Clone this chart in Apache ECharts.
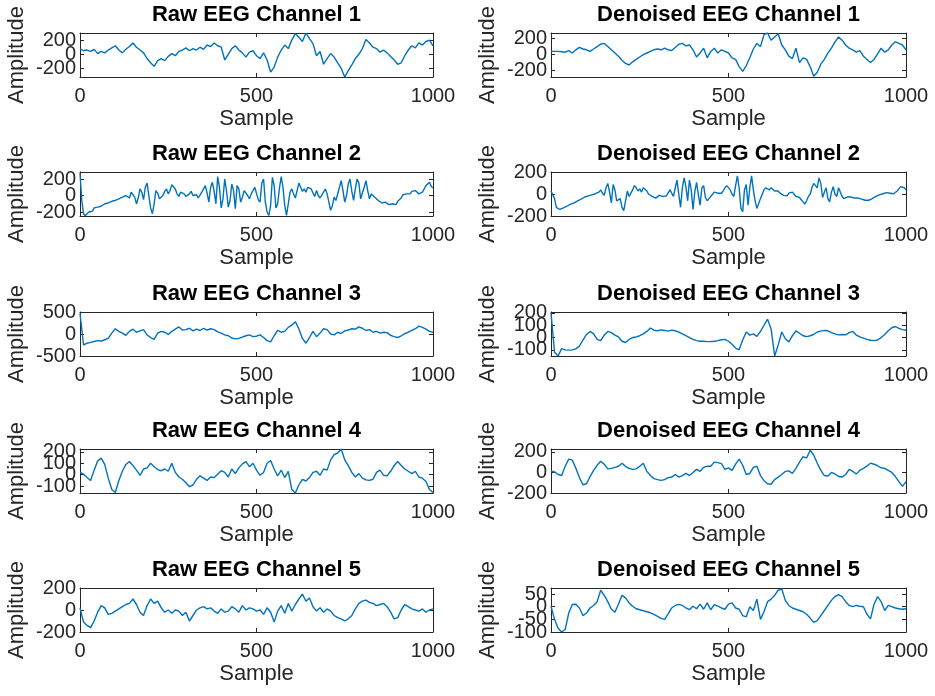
<!DOCTYPE html>
<html>
<head>
<meta charset="utf-8">
<script src="https://cdn.jsdelivr.net/npm/echarts@6/dist/echarts.min.js"></script>
<style>
html,body{margin:0;padding:0;background:#fff;}
#c{width:935px;height:696px;}
</style>
</head>
<body>
<div id="c"></div>
<script>
// ---- data ----
const xTicks = [0, 500, 1000];
const titles = [
  'Raw EEG Channel 1','Denoised EEG Channel 1',
  'Raw EEG Channel 2','Denoised EEG Channel 2',
  'Raw EEG Channel 3','Denoised EEG Channel 3',
  'Raw EEG Channel 4','Denoised EEG Channel 4',
  'Raw EEG Channel 5','Denoised EEG Channel 5'
];
const yTicks = [
  [-200,0,200],[-200,0,200],
  [-200,0,200],[-200,0,200],
  [-500,0,500],[-100,0,100,200],
  [-100,0,100,200],[-200,0,200],
  [-200,0,200],[-100,-50,0,50]
];
const yLimits = [
  [-320,300],[-280,270],
  [-248,285],[-200,205],
  [-500,500],[-150,208],
  [-160,225],[-200,228],
  [-200,200],[-100,74]
];
// sample step for each series
const steps = [10,10, 5,5, 10,10, 10,10, 10,10];

const raw1 = [80,50,60,40,70,10,40,20,60,90,120,60,20,70,110,160,100,60,20,-60,-120,-170,-90,-60,-90,-30,10,-20,40,60,90,50,80,60,100,70,130,110,160,120,100,-80,0,80,120,60,20,-40,30,50,-20,-60,20,-80,-250,-180,-40,60,130,80,200,290,240,180,300,220,150,-20,40,-140,-60,10,-40,-120,-200,-320,-230,-150,-60,0,80,210,160,100,80,30,60,20,-30,-80,-140,-120,-20,60,120,90,160,130,180,200,120];
const den1 = [40,40,40,35,30,50,20,60,90,70,60,40,70,100,130,140,100,60,20,-20,-70,-110,-130,-90,-60,-30,0,20,40,60,70,60,80,60,50,90,130,140,110,120,60,-30,20,80,-40,40,80,20,60,40,20,-40,-60,-150,-210,-140,-40,70,140,100,250,270,180,220,260,120,60,-20,-50,80,-100,-40,-60,-150,-270,-220,-120,-60,20,80,160,220,180,120,80,60,30,50,-20,-60,-100,-60,10,80,30,60,120,160,140,120,60];
const raw2 = [270,-60,-220,-245,-240,-200,-180,-190,-150,-160,-140,-120,-130,-110,-100,-110,-90,-100,-70,-80,-60,-70,-40,-50,-20,-40,0,20,-30,40,60,-20,-100,-30,80,40,-50,100,150,0,-150,-220,-100,60,30,-40,-60,0,50,80,20,60,130,150,80,20,-10,40,30,20,-10,-30,20,50,0,-20,10,-30,-10,40,80,120,30,-80,100,160,50,-100,230,100,-150,-40,200,60,-140,-60,140,60,-160,120,80,-80,-20,60,80,0,-40,20,60,100,120,-50,-80,150,200,-80,-200,-240,-120,220,120,-150,-100,90,230,100,-120,-240,-100,40,80,20,-30,60,150,100,50,80,40,100,120,80,30,-10,60,0,-30,-10,40,80,20,-80,-180,-120,-20,-60,20,100,180,60,-80,0,140,200,50,-60,80,200,150,-40,-40,100,180,60,-40,20,0,-20,-40,-60,-50,-90,-100,-80,-90,-110,-90,-100,-80,-110,-70,-60,-30,10,30,20,40,20,50,30,60,40,20,10,40,60,120,140,160,110,90];
const den2 = [30,40,-40,-120,-135,-140,-130,-125,-120,-110,-100,-90,-85,-80,-70,-60,-50,-45,-35,-25,-20,-15,-10,-5,0,5,10,20,40,10,-10,60,100,20,-80,90,40,-60,-70,-40,-120,-150,-60,30,-20,-30,40,80,60,30,50,20,60,70,30,0,-10,-20,-30,-35,-20,-10,-15,-20,-10,-15,0,40,30,-20,60,130,0,-120,60,150,70,-60,130,40,-140,20,110,0,-100,60,80,-30,-60,-40,-30,0,20,30,10,0,10,30,60,80,90,40,0,-20,80,170,60,-130,-160,40,90,-100,60,170,40,-60,-130,-140,-40,0,40,60,70,40,60,50,30,20,30,10,0,-10,-20,-15,10,0,20,5,-20,-10,-30,-50,-70,-90,-60,-20,0,60,100,80,60,150,100,-30,20,60,-40,-70,20,70,0,-20,60,70,-20,-40,-30,-25,-30,-25,-30,-35,-30,-35,-40,-45,-50,-55,-60,-55,-45,-40,-30,-20,-10,-5,0,5,10,15,20,10,0,5,20,30,50,70,80,60,40];
const raw3 = [470,-250,-210,-190,-170,-150,-160,-130,-100,20,120,60,20,-30,60,110,40,70,100,-20,-80,-120,20,60,40,-10,60,110,160,90,100,130,70,110,80,130,90,120,100,50,20,-20,-40,-90,-110,-100,-70,-40,-20,-60,-50,-20,-80,-150,-180,-40,80,40,60,150,200,280,120,-100,-210,-80,60,-60,20,120,100,0,-20,40,10,70,90,120,110,160,130,80,100,40,60,20,40,30,-30,-60,-80,-40,10,40,80,120,180,150,110,60,40];
const den3 = [200,-120,-150,-90,-100,-102,-100,-92,-70,-20,25,50,30,-15,-25,20,50,40,20,5,-30,-40,-15,0,5,15,30,50,78,60,55,62,58,52,60,55,45,30,15,0,-15,-25,-30,-30,-33,-32,-30,-25,-18,-15,-30,-55,-85,-100,-20,45,20,30,10,50,100,150,70,-150,-60,45,-10,-35,15,55,35,15,8,15,25,45,52,58,55,40,30,22,25,22,40,50,20,5,-5,-15,-22,-25,-20,0,25,55,80,90,75,65,60];
const raw4 = [20,5,-25,-50,40,120,145,90,-30,-130,-155,-50,30,90,115,80,40,-5,50,60,100,70,45,35,50,30,100,20,-20,-40,-70,-105,-90,-40,-10,-30,-50,-20,-25,5,35,20,-20,50,10,60,95,115,70,100,40,-5,20,100,125,50,-10,40,-25,30,-130,-160,-90,-40,-55,-25,20,30,-5,50,40,130,175,190,225,130,80,20,-20,10,-30,-45,-50,-40,20,40,-5,-10,30,80,115,80,50,30,10,30,-20,-30,-60,-130,-155];
const den4 = [15,5,-20,-30,60,130,120,40,-50,-120,-110,-40,20,70,108,80,35,40,50,60,90,60,40,30,35,60,90,10,-30,-60,-70,-77,-70,-50,-45,-20,-45,-30,-10,-30,0,30,10,50,60,60,100,95,85,30,45,20,80,130,70,-20,-10,50,60,-30,-80,-110,-115,-70,-45,-20,10,15,-10,40,100,154,140,216,170,90,20,-30,-35,0,-15,-40,-45,-20,30,10,-15,20,40,62,90,80,65,45,40,20,0,-40,-90,-135,-90];
const raw5 = [20,-110,-140,-160,-100,-20,40,20,-40,-30,-10,10,30,50,60,100,50,-20,-50,40,100,60,80,20,-20,0,-30,0,-10,-50,-20,-100,-50,0,20,30,10,20,-10,-30,10,-20,-10,30,10,-20,40,0,20,10,-10,0,-40,20,-20,-110,-10,40,-30,60,-10,50,100,145,80,110,30,-10,20,-20,10,-10,-50,-70,-80,-100,-80,-50,10,60,80,90,70,60,40,50,60,30,-20,-80,-70,0,50,30,10,0,-10,10,-20,0,10];
const den5 = [2,-50,-85,-100,-90,-25,9,10,-5,-35,-25,-5,5,20,65,45,20,-10,-22,10,45,35,15,2,-8,-12,-16,-20,-24,-30,-38,-46,-50,-28,-5,5,9,5,-5,-12,2,-8,10,-10,15,-12,8,2,-5,-10,10,15,-5,-10,-35,-40,0,-15,30,-50,-20,20,30,45,65,70,25,5,-5,-10,-15,-20,-30,-45,-62,-55,-35,-15,5,25,40,48,40,20,5,0,5,2,0,-30,-48,10,40,20,-15,5,0,-5,-8,-10,-8];
const seriesValues = [raw1,den1,raw2,den2,raw3,den3,raw4,den4,raw5,den5];

// ---- layout ----
const colLeft = [80, 551];
const colWidth = [353, 355];
const rowTop = [33, 172, 312, 449, 588];
const boxH = 44;
const FONT = '"Liberation Sans", Arial, sans-serif';
const TXT = '#262626';

const chart = echarts.init(document.getElementById('c'), null, {renderer:'canvas'});
const grid = [], xAxis = [], yAxis = [], series = [], title = [];

for (let k = 0; k < 10; k++) {
  const r = Math.floor(k / 2), c = k % 2;
  const left = colLeft[c], w = colWidth[c], top = rowTop[r];
  grid.push({left: left, top: top, width: w, height: boxH, show: false, containLabel: false});
  title.push({
    text: titles[k], left: left + w / 2, top: top - 30, textAlign: 'center', padding: 0,
    textStyle: {fontFamily: FONT, fontSize: 22, fontWeight: 'bold', color: '#000', lineHeight: 24}
  });
  const lineCommon = {show: true, onZero: false, lineStyle: {color: TXT, width: 1}};
  const tickCommon = {show: true, inside: true, length: 4, lineStyle: {color: TXT, width: 1}};
  // bottom x
  xAxis.push({
    gridIndex: k, type: 'value', position: 'bottom', min: xTicks[0], max: xTicks[xTicks.length - 1],
    interval: xTicks[1] - xTicks[0],
    axisLine: lineCommon, axisTick: tickCommon, splitLine: {show: false},
    axisLabel: {fontFamily: FONT, fontSize: 20, color: TXT, margin: 9, formatter: v => String(v)},
    name: 'Sample', nameLocation: 'middle', nameGap: 31,
    nameTextStyle: {fontFamily: FONT, fontSize: 22, color: TXT}
  });
  // top x (mirror)
  xAxis.push({
    gridIndex: k, type: 'value', position: 'top', min: xTicks[0], max: xTicks[xTicks.length - 1],
    interval: xTicks[1] - xTicks[0],
    axisLine: lineCommon, axisTick: tickCommon, splitLine: {show: false}, axisLabel: {show: false}
  });
  const lim = yLimits[k];
  const ticks = yTicks[k];
  const labelsA = ticks.filter((_, i) => i % 2 === 0);
  const labelsB = ticks.filter((_, i) => i % 2 === 1);
  const labelStyle = {
    fontFamily: FONT, fontSize: 20, color: TXT, margin: 4,
    hideOverlap: false, showMinLabel: true, showMaxLabel: true,
    formatter: v => String(v)
  };
  const yMainIndex = yAxis.length;
  // main left axis: line, ticks, labels group A, name
  yAxis.push({
    gridIndex: k, type: 'value', position: 'left', min: lim[0], max: lim[1],
    axisLine: lineCommon,
    axisTick: Object.assign({}, tickCommon, {customValues: ticks}),
    splitLine: {show: false},
    axisLabel: Object.assign({}, labelStyle, {customValues: labelsA}),
    name: 'Amplitude', nameLocation: 'middle', nameGap: 52,
    nameTextStyle: {fontFamily: FONT, fontSize: 22, color: TXT}
  });
  // second left axis: labels group B only (avoids label auto-hiding)
  yAxis.push({
    gridIndex: k, type: 'value', position: 'left', offset: 0, min: lim[0], max: lim[1],
    axisLine: {show: false}, axisTick: {show: false}, splitLine: {show: false},
    axisLabel: Object.assign({}, labelStyle, {show: labelsB.length > 0, customValues: labelsB.length ? labelsB : [lim[0]]})
  });
  // right mirror axis
  yAxis.push({
    gridIndex: k, type: 'value', position: 'right', min: lim[0], max: lim[1],
    axisLine: lineCommon,
    axisTick: Object.assign({}, tickCommon, {customValues: ticks}),
    splitLine: {show: false}, axisLabel: {show: false}
  });
  const vals = seriesValues[k];
  const step = steps[k];
  series.push({
    type: 'line', xAxisIndex: 2 * k, yAxisIndex: yMainIndex,
    data: vals.map((v, i) => [i * step, v]),
    showSymbol: false, symbol: 'none', smooth: false,
    lineStyle: {color: '#0072BD', width: 1.4},
    clip: true, animation: false
  });
}

chart.setOption({
  backgroundColor: '#fff', animation: false,
  title: title, grid: grid, xAxis: xAxis, yAxis: yAxis, series: series
});
</script>
</body>
</html>
